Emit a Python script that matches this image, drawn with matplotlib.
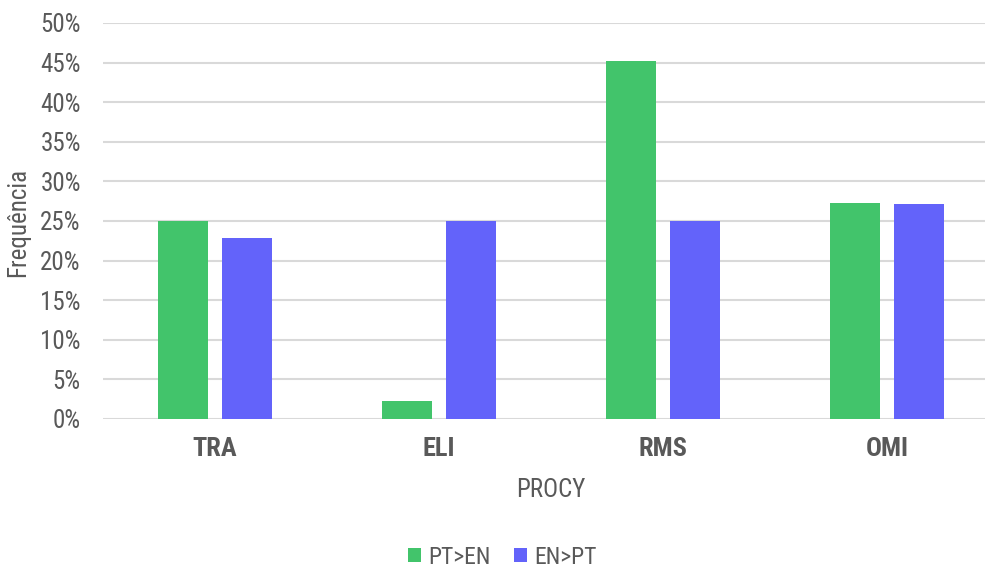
import numpy as np
import matplotlib.pyplot as plt
from matplotlib.ticker import PercentFormatter

plt.rcParams['font.family'] = ['Roboto Condensed', 'Liberation Sans Narrow', 'Liberation Sans', 'DejaVu Sans']

# Dados
categorias = ['TRA', 'ELI', 'RMS', 'OMI']
pt_en = [25.0, 2.3, 45.2, 27.3]
en_pt = [22.9, 25.0, 25.0, 27.1]

cor_texto = '#595959'
verde = '#42C46B'
azul = '#6363FA'

fig = plt.figure(figsize=(9.85, 5.71), dpi=100)
ax = fig.add_axes([103/985, 152/571, 896/985, 396/571])

x = np.arange(len(categorias))
w = 0.223
ax.bar(x - 0.143, pt_en, w, color=verde, label='PT>EN', zorder=3)
ax.bar(x + 0.143, en_pt, w, color=azul, label='EN>PT', zorder=3)

ax.set_xlim(-0.5, 3.5)
ax.set_ylim(0, 50)
ax.set_yticks(np.arange(0, 51, 5))
ax.yaxis.set_major_formatter(PercentFormatter(decimals=0))
ax.set_xticks(x)
ax.set_xticklabels(categorias, fontsize=19, fontweight='bold', color=cor_texto)
ax.tick_params(axis='y', labelsize=18, labelcolor=cor_texto, length=0, pad=16)
ax.tick_params(axis='x', length=0, pad=13)

ax.grid(axis='y', color='#d9d9d9', linewidth=1.5, zorder=0)
for s in ax.spines.values():
    s.set_visible(False)

ax.set_xlabel('PROCY', fontsize=18, color=cor_texto, labelpad=12)
fig.text(18/985, 1 - 222/571, 'Frequência', rotation=90, fontsize=18,
         color=cor_texto, ha='center', va='center')

leg = fig.legend(loc='center', bbox_to_anchor=(502/985, 1 - 557/571), ncol=2,
                 frameon=False, fontsize=17, handlelength=0.55, handleheight=0.55,
                 handletextpad=0.3, columnspacing=1.0, borderpad=0.1)
for t in leg.get_texts():
    t.set_color(cor_texto)

fig.savefig('out.png', dpi=100)
